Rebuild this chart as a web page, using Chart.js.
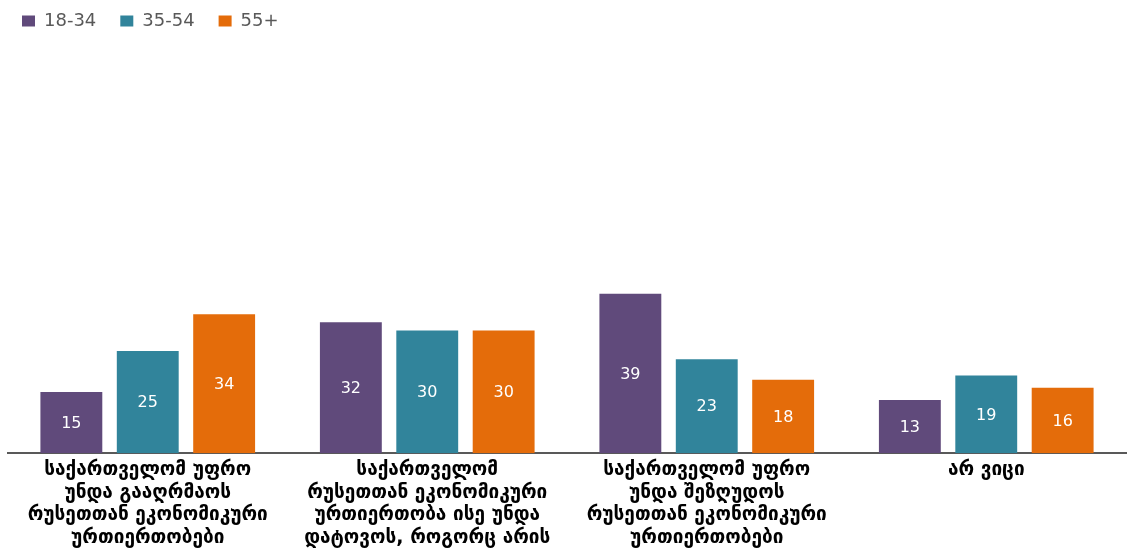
<!DOCTYPE html>
<html lang="ka">
<head>
    <meta charset="UTF-8">
    <title>Chart</title>
    <script src="https://cdn.jsdelivr.net/npm/chart.js"></script>
    <style>
        body { margin: 0; background: #fff; }
        #wrap { width: 1130px; height: 549px; }
    </style>
</head>
<body>
<div id="wrap"><canvas id="chart"></canvas></div>
<script>
// categories (multi-line labels)
const categories = [
    ["საქართველომ უფრო", "უნდა გააღრმაოს", "რუსეთთან ეკონომიკური", "ურთიერთობები"],
    ["საქართველომ", "რუსეთთან ეკონომიკური", "ურთიერთობა ისე უნდა", "დატოვოს, როგორც არის"],
    ["საქართველომ უფრო", "უნდა შეზღუდოს", "რუსეთთან ეკონომიკური", "ურთიერთობები"],
    ["არ ვიცი"]
];
const seriesNames = ["18-34", "35-54", "55+"];
const age1834 = [15, 32, 39, 13];
const age3554 = [25, 30, 23, 19];
const age55 = [34, 30, 18, 16];
const colors = ["#604A7B", "#31849B", "#E46C0A"];

// white value labels in the middle of each bar
const barLabels = {
    id: "barLabels",
    afterDatasetsDraw(chart) {
        const ctx = chart.ctx;
        ctx.save();
        ctx.fillStyle = "#ffffff";
        ctx.font = "16px 'DejaVu Sans'";
        ctx.textAlign = "center";
        ctx.textBaseline = "middle";
        chart.data.datasets.forEach((ds, i) => {
            chart.getDatasetMeta(i).data.forEach((bar, j) => {
                const mid = (bar.y + bar.base) / 2;
                ctx.fillText(ds.data[j], bar.x, mid + 1);
            });
        });
        ctx.restore();
    }
};

new Chart(document.getElementById("chart"), {
    type: "bar",
    data: {
        labels: categories,
        datasets: [
            { label: seriesNames[0], data: age1834, backgroundColor: colors[0] },
            { label: seriesNames[1], data: age3554, backgroundColor: colors[1] },
            { label: seriesNames[2], data: age55, backgroundColor: colors[2] }
        ]
    },
    options: {
        responsive: true,
        maintainAspectRatio: false,
        animation: false,
        layout: { padding: { left: -2, right: 4, top: -12, bottom: -6 } },
        datasets: { bar: { categoryPercentage: 0.82, barPercentage: 0.81 } },
        plugins: {
            legend: {
                position: "top",
                align: "start",
                labels: {
                    boxWidth: 13,
                    boxHeight: 11,
                    color: "#595959",
                    font: { family: "'DejaVu Sans'", size: 18 },
                    padding: 24
                }
            },
            tooltip: { enabled: false }
        },
        scales: {
            x: {
                grid: { display: false, drawTicks: false },
                border: { color: "#595959", width: 2 },
                ticks: {
                    color: "#000000",
                    font: { family: "'DejaVu Sans'", size: 19, weight: "bold", lineHeight: 1.18 },
                    maxRotation: 0,
                    autoSkip: false,
                    padding: 6
                }
            },
            y: {
                display: true,
                min: 0,
                max: 101,
                grid: { display: false },
                border: { display: false },
                ticks: { display: false },
                afterFit(scale) { scale.width = 10; }
            }
        }
    },
    plugins: [barLabels]
});
</script>
</body>
</html>
